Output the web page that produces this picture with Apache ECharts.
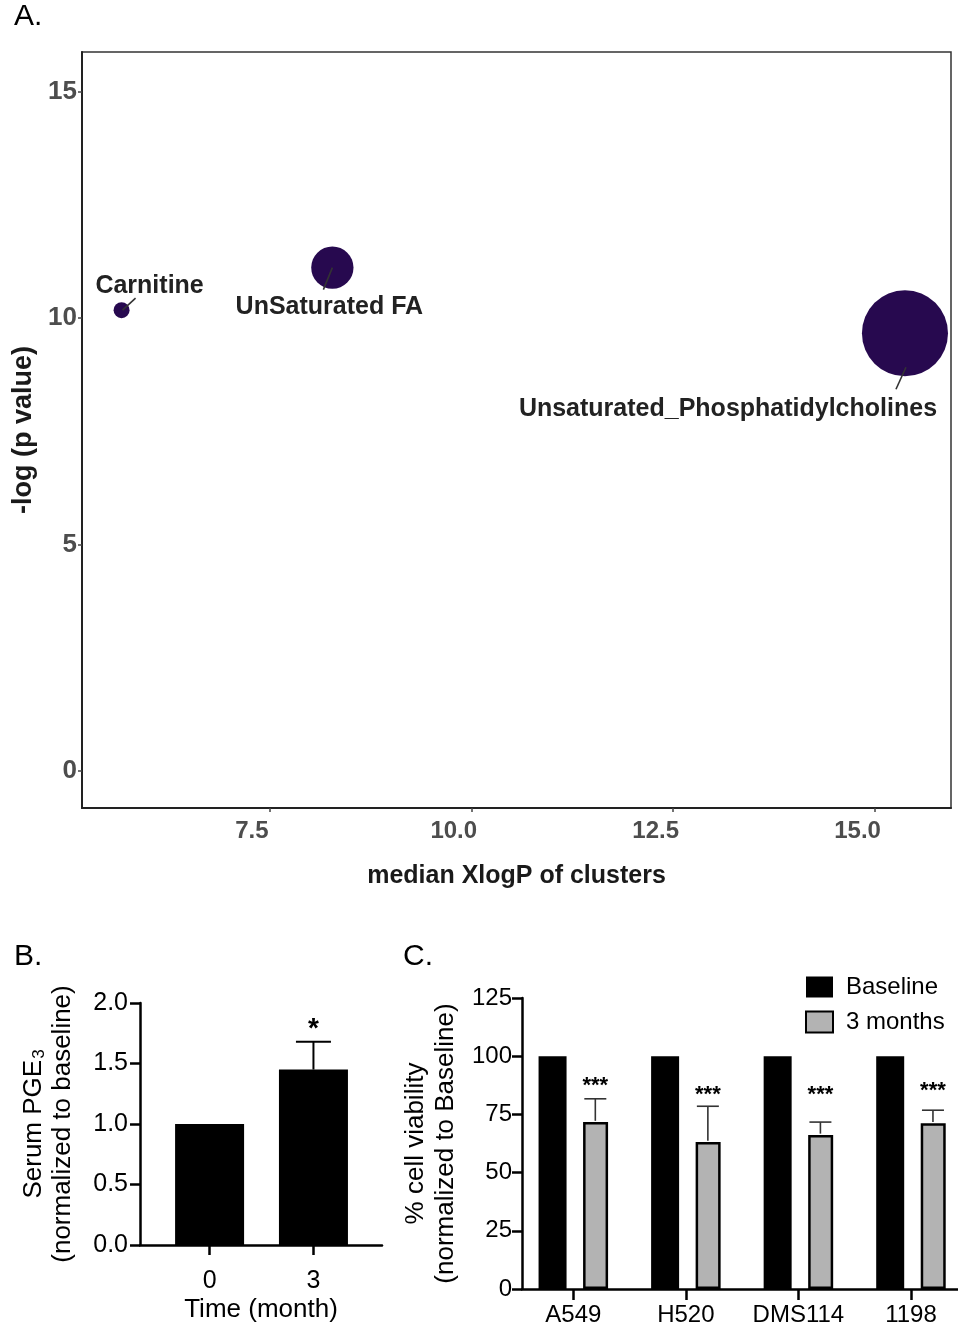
<!DOCTYPE html>
<html>
<head>
<meta charset="utf-8">
<script src="https://cdn.jsdelivr.net/npm/echarts@6/dist/echarts.min.js"></script>
<style>
html,body{margin:0;padding:0;background:#fff}
#c{width:958px;height:1328px}
</style>
</head>
<body>
<div id="c"></div>
<script>
// ---------- Panel A data ----------
const clusterNames = ['Carnitine', 'UnSaturated FA', 'Unsaturated_Phosphatidylcholines'];
const medianXlogP = [5.67, 8.28, 15.37];
const negLogP = [10.17, 11.11, 9.66];
const clusterSize = [2, 14, 58];
const aXTicks = [7.5, 10.0, 12.5, 15.0];
const aYTicks = [0, 5, 10, 15];

// ---------- Panel B data ----------
const timeMonths = ['0', '3'];
const pge3Mean = [1.0, 1.45];
const pge3ErrUp = [0, 0.23];
const pge3Sig = ['', '*'];

// ---------- Panel C data ----------
const cellLines = ['A549', 'H520', 'DMS114', '1198'];
const baselineViability = [100, 100, 100, 100];
const threeMonthViability = [71.7, 63.1, 66.2, 71.2];
const threeMonthErr = [10.0, 15.4, 5.5, 5.6];
const viabilitySig = ['***', '***', '***', '***'];

// ---------- layout / style (not data) ----------
const FONT = "'Liberation Sans', Arial, Helvetica, sans-serif";
const aLabelLayout = [
  { dx: 28, dy: -24, line: [1, 0, 14, -12] },
  { dx: -3, dy: 39, line: [0, 0, -9, 22] },
  { dx: -177, dy: 76, line: [1, 34, -9, 56] }
];
const cGrayOffset = 22;
const cStarDy = [-13, -11, -27, -19];

const chart = echarts.init(document.getElementById('c'), null, { renderer: 'canvas' });

const blackAxis = {
  axisLine: { show: true, onZero: false, lineStyle: { color: '#000', width: 2.5 } },
  splitLine: { show: false }
};

const option = {
  animation: false,
  backgroundColor: '#fff',
  textStyle: { fontFamily: FONT },
  title: [
    { text: 'A.', left: 14, top: 2, padding: 0, textStyle: { fontSize: 30, fontWeight: 'normal', color: '#000', fontFamily: FONT } },
    { text: 'B.', left: 14, top: 942, padding: 0, textStyle: { fontSize: 30, fontWeight: 'normal', color: '#000', fontFamily: FONT } },
    { text: 'C.', left: 403, top: 942, padding: 0, textStyle: { fontSize: 30, fontWeight: 'normal', color: '#000', fontFamily: FONT } }
  ],
  legend: {
    data: ['Baseline', '3 months'],
    orient: 'vertical',
    left: 805, top: 975,
    padding: 0,
    itemWidth: 27, itemHeight: 21, itemGap: 11,
    selectedMode: false,
    icon: 'rect',
    textStyle: { fontSize: 24, color: '#000', fontFamily: FONT, padding: [0, 0, 0, 8] }
  },
  grid: [
    { left: 82, top: 52, right: 7, bottom: 520, show: true, borderColor: '#333', borderWidth: 1.5, backgroundColor: 'transparent' },
    { left: 140, top: 1003, right: 576, bottom: 83 },
    { left: 522, top: 998, right: 0, bottom: 39 }
  ],
  xAxis: [
    {
      type: 'value', gridIndex: 0, min: 5.18, max: 15.94,
      axisLine: { show: true, onZero: false, lineStyle: { color: '#222', width: 2 } },
      axisTick: { show: true, customValues: aXTicks, length: 4, lineStyle: { color: '#444', width: 1.5 } },
      axisLabel: { customValues: aXTicks, formatter: v => Number(v).toFixed(1), fontSize: 24, fontWeight: 'bold', color: '#4d4d4d', margin: 11, padding: [0, 35, 0, 0], fontFamily: FONT },
      splitLine: { show: false },
      name: 'median XlogP of clusters', nameLocation: 'middle', nameGap: 56,
      nameTextStyle: { fontSize: 25, fontWeight: 'bold', color: '#1a1a1a', fontFamily: FONT }
    },
    Object.assign({}, blackAxis, {
      type: 'value', gridIndex: 1, min: -0.67, max: 1.66,
      axisTick: { show: true, customValues: [0, 1], length: 10, lineStyle: { color: '#000', width: 2.5 } },
      axisLabel: { customValues: [0, 1], formatter: v => timeMonths[Math.round(v)], fontSize: 25, color: '#000', margin: 24, fontFamily: FONT },
      name: 'Time (month)', nameLocation: 'middle', nameGap: 52,
      nameTextStyle: { fontSize: 26, color: '#000', fontFamily: FONT }
    }),
    Object.assign({}, blackAxis, {
      type: 'value', gridIndex: 2, min: -0.456, max: 3.418,
      axisTick: { show: true, customValues: [0, 1, 2, 3], length: 11, lineStyle: { color: '#000', width: 2.5 } },
      axisLabel: { customValues: [0, 1, 2, 3], formatter: v => cellLines[Math.round(v)], fontSize: 24, color: '#000', margin: 14, fontFamily: FONT }
    })
  ],
  yAxis: [
    {
      type: 'value', gridIndex: 0, min: -0.82, max: 15.87,
      axisLine: { show: true, onZero: false, lineStyle: { color: '#222', width: 2 } },
      axisTick: { show: true, customValues: aYTicks, length: 4, lineStyle: { color: '#444', width: 1.5 } },
      axisLabel: { customValues: aYTicks, fontSize: 26, fontWeight: 'bold', color: '#4d4d4d', margin: 5, fontFamily: FONT },
      splitLine: { show: false },
      name: '-log (p value)', nameLocation: 'middle', nameGap: 43,
      nameTextStyle: { fontSize: 27, fontWeight: 'bold', color: '#1a1a1a', fontFamily: FONT }
    },
    Object.assign({}, blackAxis, {
      type: 'value', gridIndex: 1, min: 0, max: 2, interval: 0.5,
      axisTick: { show: true, length: 10, lineStyle: { color: '#000', width: 2.5 } },
      axisLabel: { formatter: v => Number(v).toFixed(1), fontSize: 25, color: '#000', margin: 12, fontFamily: FONT },
      name: '{a|Serum PGE}{s|3}\n{a|(normalized to baseline)}', nameLocation: 'middle', nameGap: 63,
      nameTextStyle: {
        fontSize: 26, color: '#000', fontFamily: FONT, lineHeight: 29,
        rich: {
          a: { fontSize: 26, color: '#000', fontFamily: FONT, lineHeight: 29 },
          s: { fontSize: 17, color: '#000', fontFamily: FONT, lineHeight: 29, verticalAlign: 'bottom', padding: [0, 0, 0, 1] }
        }
      }
    }),
    Object.assign({}, blackAxis, {
      type: 'value', gridIndex: 2, min: 0, max: 125, interval: 25,
      axisTick: { show: true, length: 10, lineStyle: { color: '#000', width: 2.5 } },
      axisLabel: { fontSize: 24, color: '#000', margin: 10, fontFamily: FONT },
      name: '% cell viability\n(normalized to Baseline)', nameLocation: 'middle', nameGap: 61,
      nameTextStyle: { fontSize: 26, color: '#000', fontFamily: FONT, lineHeight: 30 }
    })
  ],
  series: [
    // Panel A bubbles
    {
      type: 'scatter', xAxisIndex: 0, yAxisIndex: 0,
      data: medianXlogP.map((x, i) => [x, negLogP[i], clusterSize[i]]),
      symbolSize: v => 11.3 * Math.sqrt(v[2]),
      itemStyle: { color: '#27094f', opacity: 1 },
      z: 2
    },
    // Panel A labels with leader lines
    {
      type: 'custom', xAxisIndex: 0, yAxisIndex: 0, z: 5,
      data: medianXlogP.map((x, i) => [x, negLogP[i]]),
      renderItem: (params, api) => {
        const i = params.dataIndex;
        const c = api.coord([api.value(0), api.value(1)]);
        const L = aLabelLayout[i];
        return {
          type: 'group',
          children: [
            { type: 'line', shape: { x1: c[0] + L.line[0], y1: c[1] + L.line[1], x2: c[0] + L.line[2], y2: c[1] + L.line[3] },
              style: { stroke: '#333', lineWidth: 1.6 } },
            { type: 'text', x: c[0] + L.dx, y: c[1] + L.dy,
              style: { text: clusterNames[i], fontSize: 25, fontWeight: 'bold', fontFamily: FONT, fill: '#222', align: 'center', verticalAlign: 'middle' } }
          ]
        };
      }
    },
    // Panel B bars
    {
      type: 'bar', xAxisIndex: 1, yAxisIndex: 1,
      data: pge3Mean.map((v, i) => [i, v]),
      barWidth: 69,
      itemStyle: { color: '#000' }
    },
    // Panel B error bars + significance
    {
      type: 'custom', xAxisIndex: 1, yAxisIndex: 1, z: 5,
      data: pge3Mean.map((v, i) => [i, v, v + pge3ErrUp[i]]),
      renderItem: (params, api) => {
        const i = params.dataIndex;
        if (!pge3ErrUp[i]) return null;
        const lo = api.coord([api.value(0), api.value(1)]);
        const hi = api.coord([api.value(0), api.value(2)]);
        const half = 17.5;
        return {
          type: 'group',
          children: [
            { type: 'line', shape: { x1: lo[0], y1: lo[1], x2: hi[0], y2: hi[1] }, style: { stroke: '#000', lineWidth: 2 } },
            { type: 'line', shape: { x1: hi[0] - half, y1: hi[1], x2: hi[0] + half, y2: hi[1] }, style: { stroke: '#000', lineWidth: 2 } },
            { type: 'text', x: hi[0], y: hi[1] - 12,
              style: { text: pge3Sig[i], fontSize: 28, fontWeight: 'bold', fontFamily: FONT, fill: '#000', align: 'center', verticalAlign: 'middle' } }
          ]
        };
      }
    },
    // Panel C bars
    {
      name: 'Baseline', type: 'bar', xAxisIndex: 2, yAxisIndex: 2,
      data: baselineViability.map((v, i) => [i, v]),
      barWidth: 28, barGap: '59%',
      itemStyle: { color: '#000' }
    },
    {
      name: '3 months', type: 'bar', xAxisIndex: 2, yAxisIndex: 2,
      data: threeMonthViability.map((v, i) => [i, v]),
      barWidth: 25, barGap: '59%',
      itemStyle: { color: '#b3b3b3', borderColor: '#000', borderWidth: 2.5 }
    },
    // Panel C error bars + significance
    {
      type: 'custom', xAxisIndex: 2, yAxisIndex: 2, z: 5,
      data: threeMonthViability.map((v, i) => [i, v, v + threeMonthErr[i]]),
      renderItem: (params, api) => {
        const i = params.dataIndex;
        const lo = api.coord([api.value(0), api.value(1)]);
        const hi = api.coord([api.value(0), api.value(2)]);
        const x = lo[0] + cGrayOffset;
        const half = 11;
        return {
          type: 'group',
          children: [
            { type: 'line', shape: { x1: x, y1: lo[1] - 1.25, x2: x, y2: hi[1] }, style: { stroke: '#333', lineWidth: 1.6 } },
            { type: 'line', shape: { x1: x - half, y1: hi[1], x2: x + half, y2: hi[1] }, style: { stroke: '#333', lineWidth: 1.6 } },
            { type: 'text', x: x, y: hi[1] + cStarDy[i],
              style: { text: viabilitySig[i], fontSize: 22, fontWeight: 'bold', fontFamily: FONT, fill: '#000', align: 'center', verticalAlign: 'middle' } }
          ]
        };
      }
    }
  ]
};

chart.setOption(option);
</script>
</body>
</html>
